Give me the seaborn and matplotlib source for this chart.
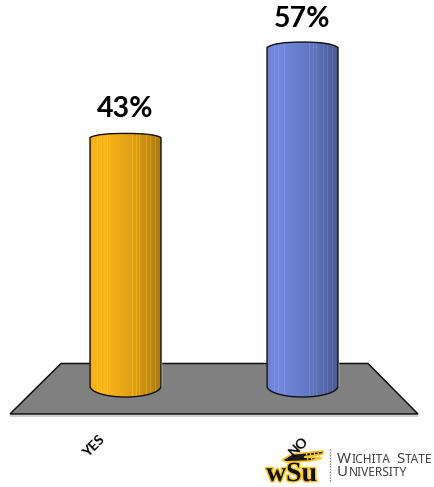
import numpy as np
import matplotlib
matplotlib.use("Agg")
import matplotlib.pyplot as plt
import matplotlib.patheffects as pe
from matplotlib.path import Path
from matplotlib.patches import PathPatch, Polygon
from matplotlib.transforms import ScaledTranslation
from matplotlib.colors import to_rgb
import seaborn as sns

categories = ["YES", "NO"]
percentages = [43, 57]
bar_colors = ["#FAB41A", "#6F86DA"]

W, H = 435, 487
PX_PER_UNIT = 6.43
AX_BOTTOM = 414
BASE_VALUE = 4.35

sns.set_theme(style="white")
plt.rcParams["font.family"] = ["Lato", "DejaVu Sans"]

fig = plt.figure(figsize=(W / 100, H / 100), dpi=100, facecolor="white")
ax = fig.add_axes([0, (H - AX_BOTTOM) / H, 1, AX_BOTTOM / H])

sns.barplot(x=categories, y=percentages, hue=categories, palette=bar_colors,
            width=0.401, legend=False, ax=ax, saturation=1, zorder=3)

ax.set_xlim(-125.5 / 177, (W - 125.5) / 177)
ax.set_ylim(0, AX_BOTTOM / PX_PER_UNIT)
xlim, ylim = ax.get_xlim(), ax.get_ylim()

for c in ax.containers:
    ax.bar_label(c, fmt="%g%%", padding=11.5, fontsize=20.5, fontweight="bold",
                 color="black", zorder=6)

# grey floor
fx = lambda p: p / W
fy = lambda p: (AX_BOTTOM - p) / AX_BOTTOM
ax.add_patch(Polygon([(fx(10), fy(416)), (fx(418), fy(416)), (fx(418), fy(416))],
                     closed=True, transform=ax.transAxes, clip_on=False,
                     ec="#D0D0D0", fc="none", lw=1.5, zorder=0))
ax.add_patch(Polygon([(fx(61), fy(363.5)), (fx(368), fy(363.5)), (fx(418), fy(414)), (fx(10), fy(414))],
                     closed=True, transform=ax.transAxes, clip_on=False,
                     fc="#808080", ec="#111111", lw=1.1, zorder=1))

# cylinder shading: relative brightness across the width with thin light streaks
shade = np.interp(np.linspace(0, 1, 71),
                  [0, 0.04, 0.22, 0.6, 0.85, 1.0],
                  [0.93, 1.0, 1.0, 0.89, 0.76, 0.68])
streaks = [0.10, 0.17, 0.25, 0.60, 0.66, 0.71, 0.80, 0.86, 0.93]
for s in streaks:
    shade[int(s * 70)] += 0.11

for c, col in zip(ax.containers, bar_colors):
    bar = c[0]
    x0, w, top = bar.get_x(), bar.get_width(), bar.get_height()
    x1 = x0 + w
    xm = x0 + w / 2
    dome = top / 10.5 / PX_PER_UNIT
    bulge = 11 / PX_PER_UNIT
    k = 0.5523
    verts = [(x0, BASE_VALUE), (x0, top),
             (x0 + w * 0.08, top + dome * 0.75), (x0 + w * 0.25, top + dome), (xm, top + dome),
             (x1 - w * 0.25, top + dome), (x1 - w * 0.08, top + dome * 0.75), (x1, top),
             (x1, BASE_VALUE),
             (x1, BASE_VALUE - bulge * k), (xm + w / 2 * k, BASE_VALUE - bulge), (xm, BASE_VALUE - bulge),
             (xm - w / 2 * k, BASE_VALUE - bulge), (x0, BASE_VALUE - bulge * k), (x0, BASE_VALUE),
             (x0, BASE_VALUE)]
    codes = [Path.MOVETO, Path.LINETO,
             Path.CURVE4, Path.CURVE4, Path.CURVE4,
             Path.CURVE4, Path.CURVE4, Path.CURVE4,
             Path.LINETO,
             Path.CURVE4, Path.CURVE4, Path.CURVE4,
             Path.CURVE4, Path.CURVE4, Path.CURVE4,
             Path.CLOSEPOLY]
    path = Path(verts, codes)
    bar.set_y(BASE_VALUE)
    bar.set_height(top - BASE_VALUE)
    img = np.clip(np.outer(shade, to_rgb(col)), 0, 1)[np.newaxis, :, :]
    im = ax.imshow(img, extent=(x0, x1, BASE_VALUE - bulge, top + dome), aspect="auto",
                   interpolation="nearest", zorder=4)
    outline = PathPatch(path, fc="none", ec="#111111", lw=1.0, zorder=5)
    ax.add_patch(outline)
    im.set_clip_path(outline)

ax.set_xlim(xlim)
ax.set_ylim(ylim)
ax.grid(False)
for sp in ax.spines.values():
    sp.set_visible(False)
ax.patch.set_alpha(0)
ax.set_yticks([])
ax.tick_params(axis="x", length=0, pad=21)
offsets = [-32, -4]
for lab, dx in zip(ax.get_xticklabels(), offsets):
    lab.set_rotation(45)
    lab.set_ha("center")
    lab.set_va("center")
    lab.set_rotation_mode("anchor")
    lab.set_fontsize(10)
    lab.set_fontweight("bold")
    lab.set_color("black")
    lab.set_zorder(10)
    lab.set_transform(lab.get_transform() + ScaledTranslation(dx / 100, -3 / 100, fig.dpi_scale_trans))

# university logo
logo_ax = fig.add_axes([0, 0, 1, 1], zorder=-1)
logo_ax.set_xlim(0, W)
logo_ax.set_ylim(H, 0)
logo_ax.axis("off")
logo_ax.add_patch(Polygon([(282, 460), (292, 454), (323, 451), (323, 454), (304, 457), (322, 458),
                           (310, 461), (286, 462)], closed=True, fc="#1A1A1A", ec="#FFC72C", lw=1.2))
for xs in (306, 310, 314, 318):
    logo_ax.plot([xs, xs + 2], [452, 460], color="#FFC72C", lw=0.8)
logo_ax.text(291.5, 481, "wSu", family="Liberation Serif", fontweight="bold", fontsize=20,
             ha="center", va="baseline", color="#111111",
             path_effects=[pe.withStroke(linewidth=2.2, foreground="#FFC72C")])
logo_ax.plot([330, 330], [449, 482], color="#777777", lw=1, ls=(0, (1, 1)))

def small_caps(x, y, runs):
    r = fig.canvas.get_renderer()
    for s, size in runs:
        t = logo_ax.text(x, y, s, fontsize=size, color="#3F3F3F", va="baseline", ha="left",
                         family="Noto Sans")
        x = t.get_window_extent(r).x1 + 0.4

small_caps(337, 463, [("W", 10.8), ("ICHITA", 8.6)])
small_caps(396, 463, [("S", 10.8), ("TATE", 8.6)])
small_caps(337, 476.5, [("U", 10.8), ("NIVERSITY", 8.6)])

fig.savefig("out.png", dpi=100, facecolor="white")
